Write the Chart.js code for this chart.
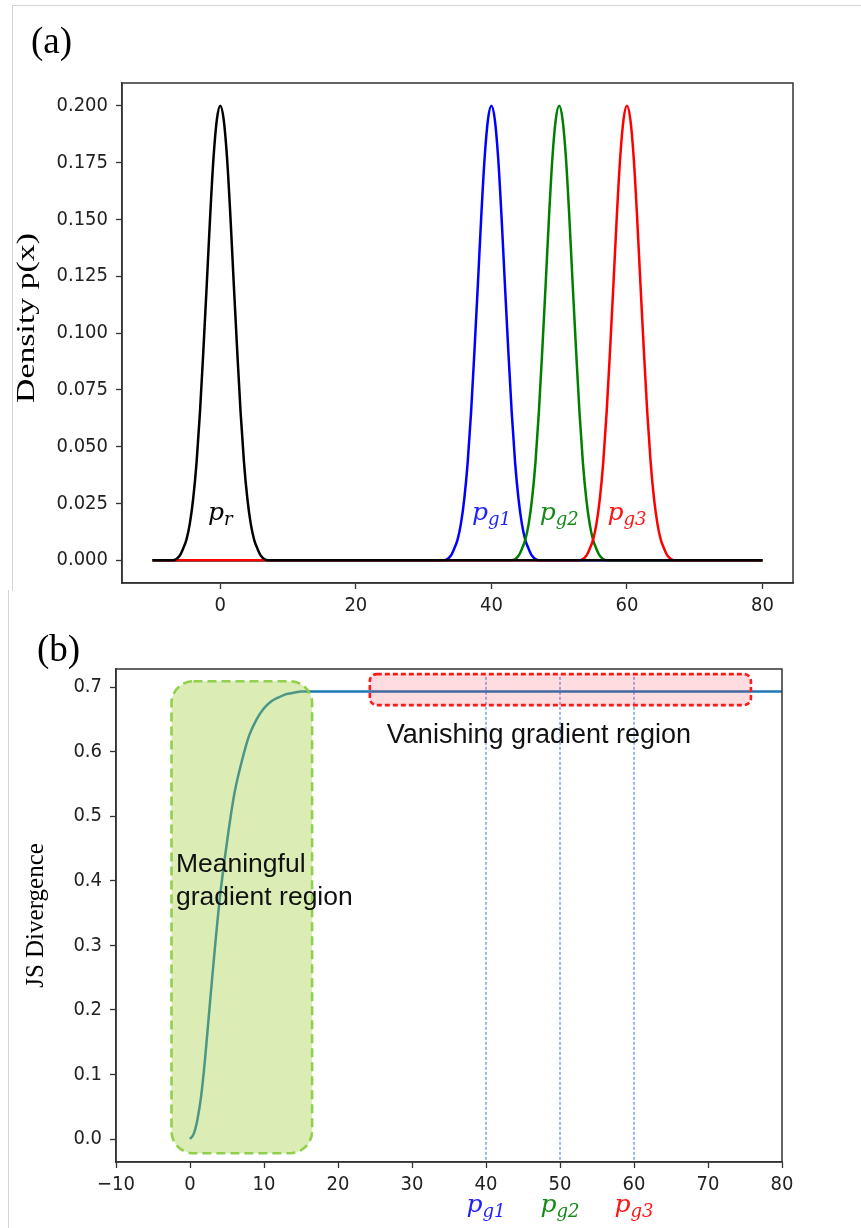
<!DOCTYPE html>
<html><head><meta charset="utf-8">
<script src="https://cdn.jsdelivr.net/npm/chart.js@4.4.1/dist/chart.umd.min.js"></script>
<style>
html,body{margin:0;padding:0;background:#fff;}
body{width:861px;height:1228px;position:relative;overflow:hidden;}
#frameA{position:absolute;left:12px;top:5px;width:849px;height:585px;border-top:1px solid #d4d4d4;border-left:1px solid #d4d4d4;}
#frameB{position:absolute;left:8px;top:590px;width:853px;height:638px;border-left:1px solid #d4d4d4;}
canvas{position:absolute;left:0;}
#cA{top:0;}
#cB{top:600px;}
</style></head><body>
<div id="frameA"></div><div id="frameB"></div>
<canvas id="cA" width="861" height="620"></canvas>
<canvas id="cB" width="861" height="628"></canvas>
<script>
// ---------- Data (a) ----------
const xTicksA = [0, 20, 40, 60, 80];
const xTickLabelsA = ['0', '20', '40', '60', '80'];
const yTicksA = [0, 0.025, 0.05, 0.075, 0.1, 0.125, 0.15, 0.175, 0.2];
const yTickLabelsA = ['0.000', '0.025', '0.050', '0.075', '0.100', '0.125', '0.150', '0.175', '0.200'];
// density (same shape for every curve)
const peakDensity = [0, 0.000, 0.002, 0.005, 0.009, 0.016, 0.027, 0.043, 0.065, 0.092, 0.121, 0.151, 0.177, 0.194, 0.200,
                     0.194, 0.177, 0.151, 0.121, 0.092, 0.065, 0.043, 0.027, 0.016, 0.009, 0.005, 0.002, 0.000, 0];
const xPr  = [-10, -7, -6, -5.5, -5, -4.5, -4, -3.5, -3, -2.5, -2, -1.5, -1, -0.5, 0, 0.5, 1, 1.5, 2, 2.5, 3, 3.5, 4, 4.5, 5, 5.5, 6, 7, 80];
const xPg1 = [-10, 33, 34, 34.5, 35, 35.5, 36, 36.5, 37, 37.5, 38, 38.5, 39, 39.5, 40, 40.5, 41, 41.5, 42, 42.5, 43, 43.5, 44, 44.5, 45, 45.5, 46, 47, 80];
const xPg2 = [-10, 43, 44, 44.5, 45, 45.5, 46, 46.5, 47, 47.5, 48, 48.5, 49, 49.5, 50, 50.5, 51, 51.5, 52, 52.5, 53, 53.5, 54, 54.5, 55, 55.5, 56, 57, 80];
const xPg3 = [-10, 53, 54, 54.5, 55, 55.5, 56, 56.5, 57, 57.5, 58, 58.5, 59, 59.5, 60, 60.5, 61, 61.5, 62, 62.5, 63, 63.5, 64, 64.5, 65, 65.5, 66, 67, 80];
const curveLabelsA = [['r', 0], ['g1', 40], ['g2', 50], ['g3', 60]];

// ---------- Data (b) ----------
const xTicksB = [-10, 0, 10, 20, 30, 40, 50, 60, 70, 80];
const xTickLabelsB = ['\u221210', '0', '10', '20', '30', '40', '50', '60', '70', '80'];
const yTicksB = [0, 0.1, 0.2, 0.3, 0.4, 0.5, 0.6, 0.7];
const yTickLabelsB = ['0.0', '0.1', '0.2', '0.3', '0.4', '0.5', '0.6', '0.7'];
const jsX = [0, 0.5, 1, 1.5, 2, 2.5, 3, 4, 5, 6, 7, 8, 9, 10, 11, 12, 13, 14, 15, 16, 20, 40, 60, 80];
const jsY = [0, 0.008, 0.03, 0.066, 0.12, 0.185, 0.25, 0.37, 0.46, 0.535, 0.585, 0.625, 0.65, 0.667, 0.678, 0.684, 0.689, 0.691, 0.693, 0.693, 0.693, 0.693, 0.693, 0.693];
const pgPositions = [40, 50, 60];
const pgNames = ['g1', 'g2', 'g3'];
const pgColors = ['#1f1fff', '#178a17', '#ff1414'];

// ---------- helpers ----------
const TICK_FONT = { family: '"DejaVu Sans Condensed", "DejaVu Sans"', size: 20 };
function pts(xs, ys) { return xs.map((x, i) => ({ x: x, y: ys[i] })); }
function axis(min, max, ticks, labels, isX, fixed, pad) {
  return {
    type: 'linear', min: min, max: max,
    afterBuildTicks: s => { s.ticks = ticks.map(v => ({ value: v })); },
    afterFit: s => {
      if (isX) { s.height = fixed; s.paddingLeft = 0; s.paddingRight = 0; }
      else { s.width = fixed; s.paddingTop = 0; s.paddingBottom = 0; }
    },
    ticks: { callback: (v, i) => labels[i], font: TICK_FONT, color: '#222', padding: pad, autoSkip: false, maxRotation: 0, minRotation: 0 },
    grid: { drawOnChartArea: false, drawTicks: true, tickLength: 6, tickColor: '#333', tickWidth: 1.3, color: '#333' },
    border: { display: true, color: '#333', width: 1.5 }
  };
}
function mathLabel(ctx, cx, baseY, sub, color, size) {
  ctx.save();
  ctx.fillStyle = color; ctx.textBaseline = 'alphabetic'; ctx.textAlign = 'left';
  const mainFont = 'italic ' + size + 'px "DejaVu Serif"';
  const subFont = 'italic ' + Math.round(size * 0.7) + 'px "DejaVu Serif"';
  ctx.font = mainFont; const w1 = ctx.measureText('p').width;
  ctx.font = subFont; const w2 = ctx.measureText(sub).width;
  const x0 = cx - (w1 + w2) / 2;
  ctx.font = mainFont; ctx.fillText('p', x0, baseY);
  ctx.font = subFont; ctx.fillText(sub, x0 + w1, baseY + size * 0.2);
  ctx.restore();
}
function frame(chart) {
  const a = chart.chartArea, ctx = chart.ctx;
  ctx.save(); ctx.strokeStyle = '#333'; ctx.lineWidth = 1.5;
  ctx.strokeRect(a.left, a.top, a.right - a.left, a.bottom - a.top);
  ctx.restore();
}
function yTitle(chart, text, x, cy, size, stretch) {
  const ctx = chart.ctx;
  ctx.save();
  ctx.translate(x, cy);
  ctx.rotate(-Math.PI / 2);
  ctx.scale(stretch, 1);
  ctx.font = size + 'px "Liberation Serif"'; ctx.fillStyle = '#000';
  ctx.textAlign = 'center'; ctx.textBaseline = 'middle';
  ctx.fillText(text, 0, 0);
  ctx.restore();
}
function panelLabel(chart, text, x, y) {
  const ctx = chart.ctx;
  ctx.save(); ctx.font = '37px "Liberation Serif"'; ctx.fillStyle = '#000';
  ctx.textAlign = 'left'; ctx.textBaseline = 'alphabetic';
  ctx.fillText(text, x, y); ctx.restore();
}
function roundBox(ctx, x0, y0, x1, y1, r, fill, stroke, dash, lw) {
  ctx.save(); ctx.beginPath(); ctx.roundRect(x0, y0, x1 - x0, y1 - y0, r);
  ctx.fillStyle = fill; ctx.fill();
  ctx.setLineDash(dash); ctx.lineWidth = lw; ctx.strokeStyle = stroke; ctx.stroke();
  ctx.restore();
}
const lineBase = { borderWidth: 2.5, pointRadius: 0, fill: false, tension: 0.4, cubicInterpolationMode: 'monotone' };

// ---------- Chart (a) ----------
const plugA = {
  id: 'plugA',
  afterDraw(chart) {
    const xs = chart.scales.x, ys = chart.scales.y;
    frame(chart);
    const cols = ['#000', '#1f1fff', '#178a17', '#ff1414'];
    curveLabelsA.forEach((l, i) => mathLabel(chart.ctx, xs.getPixelForValue(l[1]), ys.getPixelForValue(0.0177), l[0], cols[i], 25));
    yTitle(chart, 'Density p(x)', 27, 318, 26, 1.3);
    panelLabel(chart, '(a)', 31, 53);
  }
};
new Chart(document.getElementById('cA'), {
  type: 'line',
  data: { datasets: [
    Object.assign({ data: pts(xPr, peakDensity), borderColor: '#000' }, lineBase),
    Object.assign({ data: pts(xPg3, peakDensity), borderColor: '#ff0000' }, lineBase),
    Object.assign({ data: pts(xPg2, peakDensity), borderColor: '#008000' }, lineBase),
    Object.assign({ data: pts(xPg1, peakDensity), borderColor: '#0000ff' }, lineBase)
  ]},
  options: {
    responsive: false, animation: false, devicePixelRatio: 1,
    layout: { padding: { top: 83, right: 68, bottom: 0, left: 0 } },
    plugins: { legend: { display: false }, tooltip: { enabled: false } },
    scales: {
      x: axis(-14.5, 84.5, xTicksA, xTickLabelsA, true, 37, 5),
      y: axis(-0.01, 0.21, yTicksA, yTickLabelsA, false, 122, 8)
    }
  },
  plugins: [plugA]
});

// ---------- Chart (b) ----------
const plugB = {
  id: 'plugB',
  afterDatasetsDraw(chart) {
    const xs = chart.scales.x, ys = chart.scales.y, ctx = chart.ctx;
    roundBox(ctx, xs.getPixelForValue(-2.5), ys.getPixelForValue(0.709), xs.getPixelForValue(16.5), ys.getPixelForValue(-0.022), 22,
      'rgba(154,205,50,0.36)', 'rgba(140,205,70,0.95)', [9, 5], 2.6);
    roundBox(ctx, xs.getPixelForValue(24.3), ys.getPixelForValue(0.720), xs.getPixelForValue(75.8), ys.getPixelForValue(0.672), 7,
      'rgba(255,40,60,0.16)', '#ff1a1a', [5, 3], 2.6);
    ctx.save();
    ctx.fillStyle = '#111'; ctx.textAlign = 'left'; ctx.textBaseline = 'alphabetic';
    ctx.font = '27px "Liberation Sans"';
    ctx.fillText('Vanishing gradient region', xs.getPixelForValue(26.6), ys.getPixelForValue(0.613));
    ctx.font = '26.5px "Liberation Sans"';
    ctx.fillText('Meaningful', xs.getPixelForValue(-1.9), ys.getPixelForValue(0.4135));
    ctx.fillText('gradient region', xs.getPixelForValue(-1.9), ys.getPixelForValue(0.362));
    ctx.restore();
  },
  afterDraw(chart) {
    const xs = chart.scales.x, a = chart.chartArea;
    frame(chart);
    pgPositions.forEach((p, i) => mathLabel(chart.ctx, xs.getPixelForValue(p), a.bottom + 50, pgNames[i], pgColors[i], 25));
    yTitle(chart, 'JS Divergence', 36, (a.top + a.bottom) / 2, 25, 1);
    panelLabel(chart, '(b)', 37, 61);
  }
};
const vlines = pgPositions.map(p => ({
  data: [{ x: p, y: -0.04 }, { x: p, y: 0.716 }], borderColor: '#3a6fd8', borderWidth: 1, borderDash: [3, 2], pointRadius: 0, fill: false
}));
new Chart(document.getElementById('cB'), {
  type: 'line',
  data: { datasets: [Object.assign({ data: pts(jsX, jsY), borderColor: '#1f77b4' }, lineBase)].concat(vlines) },
  options: {
    responsive: false, animation: false, devicePixelRatio: 1,
    layout: { padding: { top: 69, right: 79, bottom: 0, left: 0 } },
    plugins: { legend: { display: false }, tooltip: { enabled: false } },
    scales: {
      x: axis(-10, 80, xTicksB, xTickLabelsB, true, 66, 5),
      y: axis(-0.0356, 0.7279, yTicksB, yTickLabelsB, false, 116, 8)
    }
  },
  plugins: [plugB]
});
</script></body></html>
